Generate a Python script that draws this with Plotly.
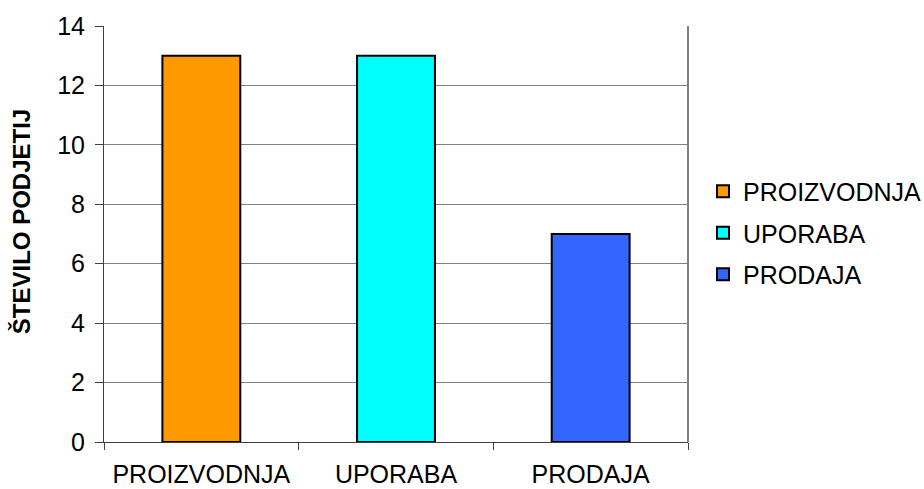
import plotly.graph_objects as go

categories = ["PROIZVODNJA", "UPORABA", "PRODAJA"]
values = [13, 13, 7]
colors = ["#FF9900", "#00FFFF", "#3366FF"]
y_ticks = [0, 2, 4, 6, 8, 10, 12, 14]

FONT = "Liberation Sans, Arial, sans-serif"

fig = go.Figure()
for cat, val, col in zip(categories, values, colors):
    fig.add_trace(go.Bar(
        x=[cat], y=[val], name=cat, width=0.4, legendgroup=cat,
        marker=dict(color=col, line=dict(color="black", width=2)),
    ))

fig.update_layout(
    width=924, height=489,
    margin=dict(l=104, r=236, t=26, b=47),
    paper_bgcolor="white", plot_bgcolor="white",
    barmode="overlay",
    font=dict(family=FONT, size=25, color="black"),
    showlegend=True,
    legend=dict(xref="container", yref="container", x=0.7608, y=0.5235,
                xanchor="left", yanchor="middle",
                font=dict(size=25), tracegroupgap=6),
    xaxis=dict(
        categoryorder="array", categoryarray=categories,
        showline=True, linecolor="#404040", linewidth=1,
        ticks="outside", tickson="boundaries", ticklen=7, tickcolor="#404040",
        ticklabelstandoff=10, automargin=False,
        showgrid=False, tickfont=dict(size=25),
    ),
    yaxis=dict(
        range=[0, 14], tickvals=y_ticks, showgrid=True, gridcolor="#808080", gridwidth=1,
        showline=True, linecolor="#404040", linewidth=1,
        ticks="outside", ticklen=8, tickcolor="#404040", ticklabelstandoff=5,
        tickfont=dict(size=25), zeroline=False,
    ),
    shapes=[dict(type="line", xref="paper", yref="paper", x0=1, x1=1, y0=0, y1=1,
                 line=dict(color="#808080", width=2))],
    annotations=[dict(text="<b>ŠTEVILO PODJETIJ</b>", textangle=-90,
                      xref="paper", yref="paper", x=-0.141, y=0.53,
                      xanchor="center", yanchor="middle", showarrow=False,
                      font=dict(size=24, family=FONT))],
)

fig.write_html("out.html")
